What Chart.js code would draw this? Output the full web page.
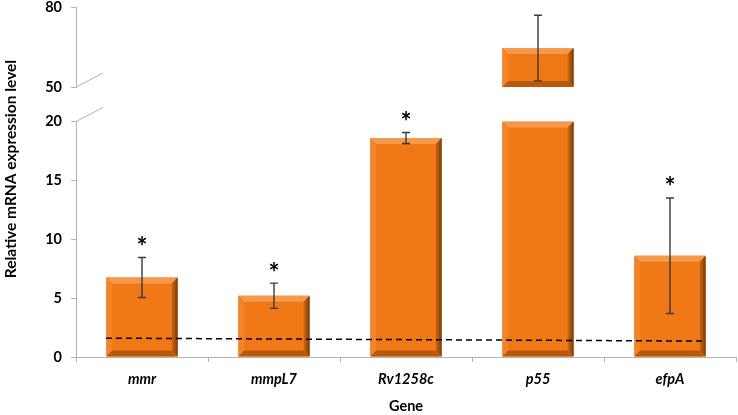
<!DOCTYPE html>
<html>
<head>
<meta charset="utf-8">
<script src="https://cdn.jsdelivr.net/npm/chart.js@4.4.1/dist/chart.umd.min.js"></script>
<style>
  html, body { margin: 0; padding: 0; background: #fff; }
  #wrap { width: 738px; height: 415px; }
</style>
</head>
<body>
<div id="wrap"><canvas id="chart" width="738" height="415"></canvas></div>
<script>
// values
var genes = ['mmr', 'mmpL7', 'Rv1258c', 'p55', 'efpA'];
var meanExpr = [6.75, 5.2, 18.6, 64.7, 8.6];
var errExpr = [1.7, 1.07, 0.47, 12.4, 4.9];
var significant = [true, true, true, false, true];

// broken axis: lower and upper segment
var lowRange = [0, 20];
var highRange = [50, 80];
var lowTicks = [0, 5, 10, 15, 20];
var highTicks = [50, 80];

// dashed cut-off line (relative x across the plot)
var cutoffX = [0, 1];
var cutoffY = [1.6, 1.35];

var FONT = 'Lato';
var AXIS_GREY = '#b3b3b3';
var ORANGE = '#f07816';

var lowData = meanExpr.map(function(v) { return Math.min(v, lowRange[1]); });
var highData = meanExpr.map(function(v) { return v > lowRange[1] ? [highRange[0], v] : null; });
var cutoffData = cutoffX.map(function(x, i) { return {x: x, y: cutoffY[i]}; });

function bevel(ctx, bar) {
	var p = bar.getProps(['x', 'y', 'base', 'width'], true);
	var l = p.x - p.width / 2, r = p.x + p.width / 2;
	var t = Math.min(p.y, p.base), b = Math.max(p.y, p.base);
	var d = 6;
	ctx.save();
	// top
	ctx.fillStyle = '#f59a4c';
	ctx.beginPath();
	ctx.moveTo(l, t); ctx.lineTo(r, t); ctx.lineTo(r - d, t + d); ctx.lineTo(l + d, t + d);
	ctx.closePath(); ctx.fill();
	// left
	ctx.fillStyle = '#f2842a';
	ctx.beginPath();
	ctx.moveTo(l, t); ctx.lineTo(l + d, t + d); ctx.lineTo(l + d, b - d); ctx.lineTo(l, b);
	ctx.closePath(); ctx.fill();
	// right
	var g = ctx.createLinearGradient(r - d, 0, r, 0);
	g.addColorStop(0, '#d06a12');
	g.addColorStop(1, '#7a3a08');
	ctx.fillStyle = g;
	ctx.beginPath();
	ctx.moveTo(r, t); ctx.lineTo(r, b); ctx.lineTo(r - d, b - d); ctx.lineTo(r - d, t + d);
	ctx.closePath(); ctx.fill();
	// bottom
	ctx.fillStyle = '#b9590c';
	ctx.beginPath();
	ctx.moveTo(l, b); ctx.lineTo(r, b); ctx.lineTo(r - d, b - d); ctx.lineTo(l + d, b - d);
	ctx.closePath(); ctx.fill();
	ctx.restore();
}

var decorPlugin = {
	id: 'decor',
	afterDatasetDraw: function(chart, args) {
		var ds = chart.data.datasets[args.index];
		if (ds.type === 'line') return;
		args.meta.data.forEach(function(bar, i) {
			if (ds.data[i] == null) return;
			bevel(chart.ctx, bar);
		});
	},
	afterDraw: function(chart) {
		var ctx = chart.ctx;
		var xs = chart.scales.x, yTop = chart.scales.yTop, yBot = chart.scales.yBot;
		ctx.save();

		// error bars + asterisks
		for (var i = 0; i < genes.length; i++) {
			var sc = meanExpr[i] > lowRange[1] ? yTop : yBot;
			var x = xs.getPixelForValue(i);
			var hi = sc.getPixelForValue(meanExpr[i] + errExpr[i]);
			var lo = sc.getPixelForValue(meanExpr[i] - errExpr[i]);
			ctx.strokeStyle = '#3a3a3a';
			ctx.lineWidth = 1.4;
			ctx.beginPath();
			ctx.moveTo(x, hi); ctx.lineTo(x, lo);
			ctx.moveTo(x - 4, hi); ctx.lineTo(x + 4, hi);
			ctx.moveTo(x - 4, lo); ctx.lineTo(x + 4, lo);
			ctx.stroke();
			if (significant[i]) {
				ctx.fillStyle = '#000';
				ctx.font = 'bold 26px ' + FONT;
				ctx.textAlign = 'center';
				ctx.textBaseline = 'middle';
				ctx.fillText('*', x, hi - 10);
			}
		}

		// axis break marks
		var left = chart.chartArea.left;
		ctx.strokeStyle = AXIS_GREY;
		ctx.lineWidth = 1;
		ctx.beginPath();
		ctx.moveTo(left, yTop.bottom); ctx.lineTo(left + 27, yTop.bottom - 14);
		ctx.moveTo(left, yBot.top); ctx.lineTo(left + 27, yBot.top - 14);
		ctx.stroke();

		// y title across both segments
		ctx.translate(11, 169);
		ctx.rotate(-Math.PI / 2);
		ctx.fillStyle = '#000';
		ctx.font = 'bold 15.5px ' + FONT;
		ctx.textAlign = 'center';
		ctx.textBaseline = 'middle';
		ctx.fillText('Relative mRNA expression level', 0, 0);
		ctx.restore();
	}
};

function yAxis(range, ticks, weight, stackWeight) {
	return {
		type: 'linear',
		position: 'left',
		stack: 'v',
		weight: weight,
		stackWeight: stackWeight,
		min: range[0],
		max: range[1],
		afterBuildTicks: function(s) { s.ticks = ticks.map(function(v) { return {value: v}; }); },
		afterFit: function(s) { s.width = 76; s.paddingTop = 0; s.paddingBottom = 0; },
		grid: { drawOnChartArea: false, tickLength: 5, color: AXIS_GREY },
		border: { color: AXIS_GREY },
		ticks: { color: '#000', padding: 9, font: { family: FONT, size: 14.5, weight: 'bold' } }
	};
}

new Chart(document.getElementById('chart'), {
	type: 'bar',
	data: {
		labels: genes,
		datasets: [{
			type: 'line',
			data: cutoffData,
			xAxisID: 'xLine',
			yAxisID: 'yBot',
			borderColor: '#000',
			borderWidth: 1.5,
			borderDash: [6, 4],
			pointRadius: 0,
			order: 0
		}, {
			data: lowData,
			yAxisID: 'yBot',
			backgroundColor: ORANGE,
			grouped: false,
			barPercentage: 0.9,
			categoryPercentage: 0.6,
			order: 1
		}, {
			data: highData,
			yAxisID: 'yTop',
			backgroundColor: ORANGE,
			grouped: false,
			barPercentage: 0.9,
			categoryPercentage: 0.6,
			order: 1
		}]
	},
	options: {
		responsive: false,
		animation: false,
		layout: { padding: { top: 7.5, right: 2, left: 0, bottom: 0 } },
		plugins: { legend: { display: false }, tooltip: { enabled: false } },
		scales: {
			x: {
				type: 'category',
				offset: true,
				grid: { drawOnChartArea: false, offset: true, tickLength: 5, color: AXIS_GREY },
				border: { color: AXIS_GREY },
				ticks: { color: '#000', padding: 9, maxRotation: 0, font: { family: FONT, size: 14.5, weight: 'bold', style: 'italic' } },
				title: { display: true, text: 'Gene', color: '#000', padding: { top: 6, bottom: 0 }, font: { family: FONT, size: 14.5, weight: 'bold' } },
				afterFit: function(s) { s.height = 58; }
			},
			xLine: { type: 'linear', min: cutoffX[0], max: cutoffX[1], display: false },
			yTop: yAxis(highRange, highTicks, 3, 79.5),
			yGap: { type: 'linear', position: 'left', stack: 'v', weight: 2, stackWeight: 34.5, display: false },
			yBot: yAxis(lowRange, lowTicks, 1, 235.5)
		}
	},
	plugins: [decorPlugin]
});
</script>
</body>
</html>
